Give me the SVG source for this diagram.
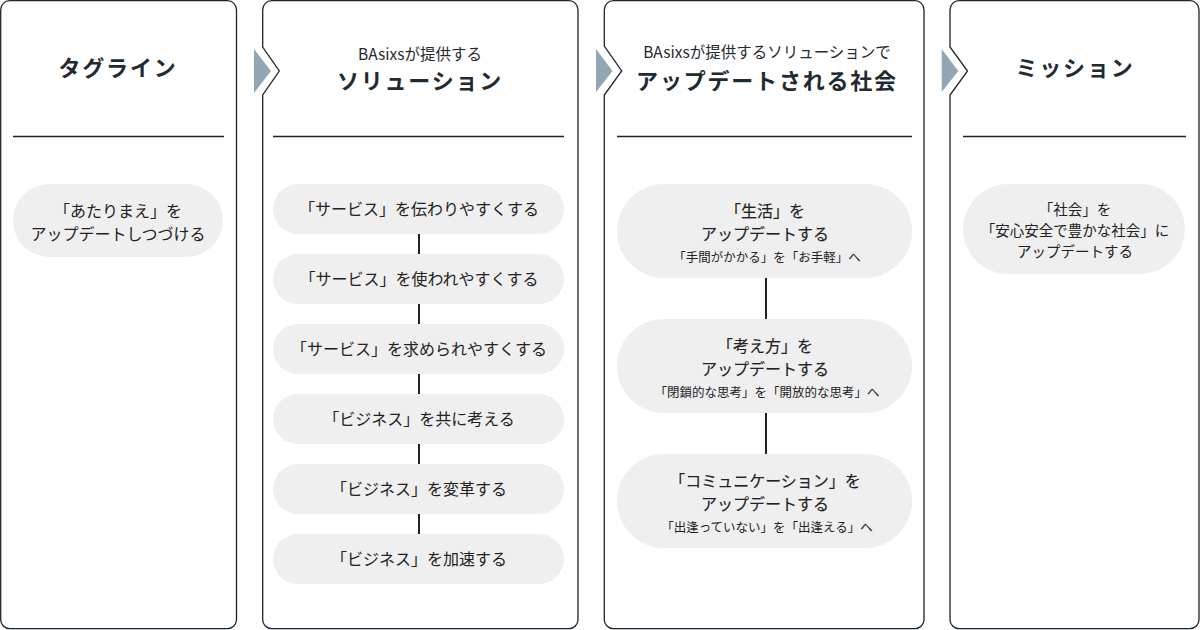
<svg xmlns="http://www.w3.org/2000/svg" width="1200" height="630" viewBox="0 0 1200 630">
<style>
.panel{fill:#fff;stroke:#1a252d;stroke-width:1.3}
.rule{stroke:#1a252d;stroke-width:1.3}
.tri{fill:#93a6b4}
.pill{fill:#efefef}
.conn{stroke:#1a252d;stroke-width:2}
text{font-family:"Noto Sans CJK JP","Noto Sans",sans-serif;fill:#1f2a31;text-anchor:middle}
.h{font-size:22px;font-weight:700;letter-spacing:1.8px}
.s{font-size:15.5px}
.t{font-size:16px;fill:#222}
.m{font-size:16px;fill:#222;stroke:#222;stroke-width:0.15}
.sm{font-size:12.5px;fill:#222}
.p4{font-size:14.5px;fill:#222}
</style>
<rect width="1200" height="630" fill="#fff"/>
<g id="panel-tagline">
<rect class="panel" x="0.7" y="0.7" width="235.8" height="628" rx="9"/>
<text class="h" x="118" y="76">タグライン</text>
<line class="rule" x1="13" y1="136.5" x2="224" y2="136.5"/>
</g>
<g id="panel-solution">
<path class="panel" d="M271,0.7 H569 A9,9 0 0 1 578,9.7 V619.7 A9,9 0 0 1 569,628.7 H271.7 A9,9 0 0 1 262.7,619.7 V95 L279.3,71 L262.7,47 V9.7 A9,9 0 0 1 271.7,0.7 Z"/>
<text class="s" x="420" y="60">BAsixsが提供する</text>
<text class="h" x="420" y="89">ソリューション</text>
<line class="rule" x1="273" y1="136.5" x2="564" y2="136.5"/>
</g>
<g id="panel-society">
<path class="panel" d="M613,0.7 H915 A9,9 0 0 1 924,9.7 V619.7 A9,9 0 0 1 915,628.7 H613.3 A9,9 0 0 1 604.3,619.7 V95 L621.7,71 L604.3,46 V9.7 A9,9 0 0 1 613.3,0.7 Z"/>
<text class="s" x="767" y="58">BAsixsが提供するソリューションで</text>
<text class="h" x="767" y="89">アップデートされる社会</text>
<line class="rule" x1="617" y1="136.5" x2="912" y2="136.5"/>
</g>
<g id="panel-mission">
<path class="panel" d="M959,0.7 H1190 A9,9 0 0 1 1199,9.7 V619.7 A9,9 0 0 1 1190,628.7 H959 A9,9 0 0 1 950,619.7 V95 L967.5,71 L950,47 V9.7 A9,9 0 0 1 959,0.7 Z"/>
<text class="h" x="1075" y="76">ミッション</text>
<line class="rule" x1="963" y1="136.5" x2="1186" y2="136.5"/>
</g>
<g id="arrows">
<polygon class="tri" points="254,49 271,71 254,93"/>
<polygon class="tri" points="596,49 612.5,71 596,92"/>
<polygon class="tri" points="941.7,49 958.3,71 941.7,92"/>
</g>
<g id="connectors">
<line class="conn" x1="419" y1="234" x2="419" y2="254"/>
<line class="conn" x1="419" y1="304" x2="419" y2="324"/>
<line class="conn" x1="419" y1="374" x2="419" y2="394"/>
<line class="conn" x1="419" y1="444" x2="419" y2="464"/>
<line class="conn" x1="419" y1="514" x2="419" y2="534"/>
<line class="conn" x1="766" y1="278" x2="766" y2="319"/>
<line class="conn" x1="766" y1="413" x2="766" y2="454"/>
</g>
<g id="node-tagline">
<rect class="pill" x="13" y="184" width="210" height="73" rx="36.5"/>
<text class="t" x="118" y="216.5">「あたりまえ」を</text>
<text class="t" x="118" y="239.5">アップデートしつづける</text>
</g>
<g id="node-s1"><rect class="pill" x="273" y="184" width="291" height="50" rx="25"/><text class="t" x="419" y="215">「サービス」を伝わりやすくする</text></g>
<g id="node-s2"><rect class="pill" x="273" y="254" width="291" height="50" rx="25"/><text class="t" x="419" y="285">「サービス」を使われやすくする</text></g>
<g id="node-s3"><rect class="pill" x="273" y="324" width="291" height="50" rx="25"/><text class="t" x="419" y="355">「サービス」を求められやすくする</text></g>
<g id="node-s4"><rect class="pill" x="273" y="394" width="291" height="50" rx="25"/><text class="t" x="419" y="425">「ビジネス」を共に考える</text></g>
<g id="node-s5"><rect class="pill" x="273" y="464" width="291" height="50" rx="25"/><text class="t" x="419" y="495">「ビジネス」を変革する</text></g>
<g id="node-s6"><rect class="pill" x="273" y="534" width="291" height="50" rx="25"/><text class="t" x="419" y="565">「ビジネス」を加速する</text></g>
<g id="node-life">
<rect class="pill" x="617" y="184" width="295" height="94" rx="47"/>
<text class="m" x="765" y="217">「生活」を</text>
<text class="m" x="765" y="240">アップデートする</text>
<text class="sm" x="767" y="261.5">「手間がかかる」を「お手軽」へ</text>
</g>
<g id="node-thinking">
<rect class="pill" x="617" y="319" width="295" height="94" rx="47"/>
<text class="m" x="765" y="352">「考え方」を</text>
<text class="m" x="765" y="375">アップデートする</text>
<text class="sm" x="767" y="396.5">「閉鎖的な思考」を「開放的な思考」へ</text>
</g>
<g id="node-communication">
<rect class="pill" x="617" y="454" width="295" height="94" rx="47"/>
<text class="m" x="765" y="487">「コミュニケーション」を</text>
<text class="m" x="765" y="510">アップデートする</text>
<text class="sm" x="767" y="531.5">「出逢っていない」を「出逢える」へ</text>
</g>
<g id="node-mission">
<rect class="pill" x="963" y="184" width="222" height="90" rx="45"/>
<text class="p4" x="1075" y="215">「社会」を</text>
<text class="p4" x="1075" y="236">「安心安全で豊かな社会」に</text>
<text class="p4" x="1075" y="256.5">アップデートする</text>
</g>
</svg>
